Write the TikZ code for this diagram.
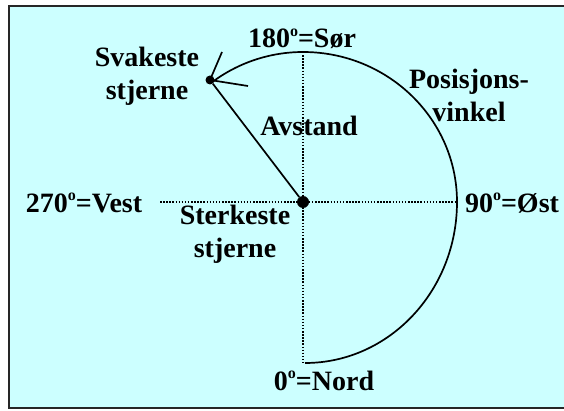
\documentclass[tikz,border=0pt]{standalone}
\usepackage{fontspec}
\setmainfont{Liberation Serif}
\usepackage{tikz}
\usetikzlibrary{calc,positioning}
\definecolor{skyCyan}{RGB}{204,255,255}
\newcommand{\degr}{\raisebox{0.42em}{\fontsize{16}{16}\selectfont o}}

\begin{document}
\begin{tikzpicture}[x=1pt, y=1pt,
    lbl/.style={inner sep=0pt, anchor=base, align=center, font=\fontsize{28}{33}\selectfont\bfseries},
    dot/.style={circle, fill=black, inner sep=0pt, minimum size=12pt},
    smalldot/.style={circle, fill=black, inner sep=0pt, minimum size=9pt},
    axis/.style={line width=1.5pt, dash pattern=on 1.5pt off 1.6pt},
    line/.style={line width=1.7pt, draw=black}
]
\useasboundingbox (0,0) rectangle (564,410);
% Background and frame
\fill[fill=skyCyan] (9,2) rectangle (564,404);
\draw[line width=2pt, black!85] (564,404) -- (9,404) -- (9,2) -- (564,2);
% Nodes
\node[dot] (sterk) at (303,208) {};
\node[smalldot] (svak) at (210,330) {};
\coordinate (nord) at (303,47);
\coordinate (sor) at (303,358);
\coordinate (vest) at (160,208);
\coordinate (ost) at (455,208);
\coordinate (pilA) at (222,358);
\coordinate (pilB) at (248,324);
\node[lbl] (lsor) at (302,362) {180\degr=Sør};
\node[lbl] (lvest) at (84,198) {270\degr=Vest};
\node[lbl] (lost) at (512,198) {90\degr=Øst};
\node[lbl] (lnord) at (324,20) {0\degr=Nord};
\node[lbl] (lsvak) at (147,310) {Svakeste\\stjerne};
\node[lbl] (lsterk) at (235,153) {Sterkeste\\stjerne};
\node[lbl] (lavst) at (309,274) {Avstand};
\node[lbl] (lpos) at (469,288) {Posisjons-\\vinkel};
% Axes
\draw[axis] (vest) -- (ost);
\draw[axis] (sor) -- (nord);
% Arrows
\draw[line] (svak) -- (sterk);
\draw[line] (305,47) arc[start angle=-90, end angle=0, x radius=152, y radius=161]
    arc[start angle=0, end angle=90, x radius=154, y radius=150]
    arc[start angle=90, end angle=127, radius=152] -- (svak.center);
\draw[line] (svak.center) -- (pilA);
\draw[line] (svak.center) -- (pilB);
\end{tikzpicture}
\end{document}
